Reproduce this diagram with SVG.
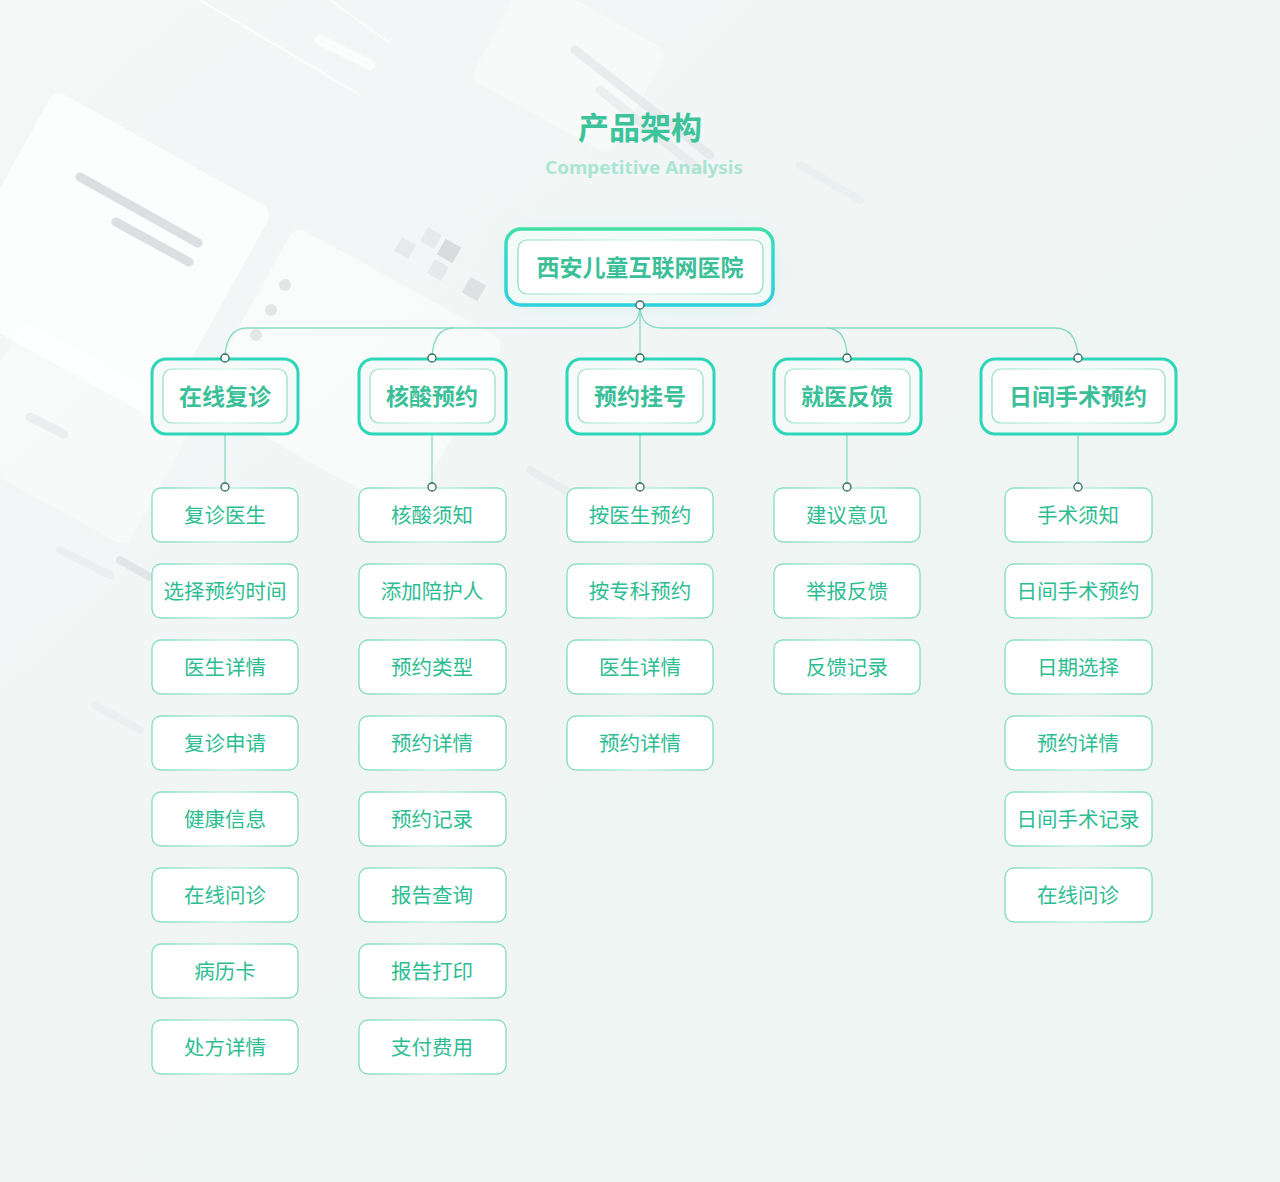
<svg xmlns="http://www.w3.org/2000/svg" width="1280" height="1182" viewBox="0 0 1280 1182">
<defs>
<linearGradient id="bg" x1="0" y1="0" x2="1" y2="1">
<stop offset="0" stop-color="#f5f7f7"/>
<stop offset="0.5" stop-color="#f0f5f4"/>
<stop offset="1" stop-color="#eef5f2"/>
</linearGradient>
<linearGradient id="leafStroke" x1="0" y1="0" x2="1" y2="0">
<stop offset="0" stop-color="#7fdcc0"/>
<stop offset="0.5" stop-color="#c8f1e4"/>
<stop offset="1" stop-color="#7fdcc0"/>
</linearGradient>
<linearGradient id="innerStroke" x1="0" y1="0" x2="1" y2="0">
<stop offset="0" stop-color="#8fdcc4"/>
<stop offset="0.5" stop-color="#d2f3e8"/>
<stop offset="1" stop-color="#8fdcc4"/>
</linearGradient>
<linearGradient id="rootStroke" x1="0" y1="0" x2="0" y2="1">
<stop offset="0" stop-color="#3fe0a6"/>
<stop offset="0.3" stop-color="#35d6d2"/>
<stop offset="1" stop-color="#30d0dc"/>
</linearGradient>
<filter id="glow" x="-30%" y="-50%" width="160%" height="200%">
<feGaussianBlur stdDeviation="14"/>
</filter>
<filter id="soft" x="-20%" y="-20%" width="140%" height="140%">
<feGaussianBlur stdDeviation="3"/>
</filter>
</defs>
<style>
.leaf rect{fill:#ffffff;stroke:url(#leafStroke);stroke-width:1.3}
.leaf text{font-family:"Noto Sans CJK SC","Noto Sans",sans-serif;font-size:20.5px;fill:#2ebd92;text-anchor:middle}
.l1 .outer{fill:#f6fbf9;stroke:#2ed6b8;stroke-width:3}
.l1 .inner{fill:#ffffff;stroke:url(#innerStroke);stroke-width:1.2}
.l1 text{font-family:"Noto Sans CJK SC","Noto Sans",sans-serif;font-size:23px;font-weight:700;fill:#3bbf98;text-anchor:middle}
.conn path,.conn line{fill:none;stroke:#86dcc3;stroke-width:1.3}
.dot{fill:#ffffff;stroke:#2f6b62;stroke-width:1.3}
.deco{fill:#ffffff}
.bar{stroke:#dcdfe2;stroke-linecap:round}
</style>

<rect x="0" y="0" width="1280" height="1182" fill="url(#bg)"/>

<g id="background">
<g transform="rotate(29 120 240)" opacity="0.75">
<rect class="deco" x="-10" y="140" width="250" height="240" rx="12"/>
</g>
<line class="bar" x1="80" y1="177" x2="198" y2="243" stroke-width="9"/>
<line class="bar" x1="116" y1="222" x2="189" y2="262" stroke-width="9"/>
<g transform="rotate(29 340 330)" opacity="0.55">
<rect class="deco" x="250" y="260" width="240" height="200" rx="12"/>
</g>
<circle cx="285" cy="285" r="6" fill="#e3e6e7"/>
<circle cx="271" cy="310" r="6" fill="#e3e6e7"/>
<circle cx="256" cy="335" r="6" fill="#e3e6e7"/>
<g opacity="0.9">
<rect x="397" y="240" width="16" height="16" fill="#e6e9ea" transform="rotate(29 405 248)"/>
<rect x="423" y="230" width="16" height="16" fill="#e6e9ea" transform="rotate(29 431 238)"/>
<rect x="440" y="242" width="18" height="18" fill="#d6dadb" transform="rotate(29 449 251)"/>
<rect x="430" y="262" width="16" height="16" fill="#e4e8e8" transform="rotate(29 438 270)"/>
<rect x="465" y="280" width="18" height="18" fill="#dcdfdf" transform="rotate(29 474 289)"/>
</g>
<line class="bar" x1="30" y1="417" x2="64" y2="434" stroke-width="9" stroke="#cfd3d5"/>
<g transform="rotate(29 100 430)" opacity="0.45">
<rect class="deco" x="-20" y="370" width="200" height="150" rx="12"/>
</g>
<line class="bar" x1="120" y1="560" x2="150" y2="577" stroke-width="8" opacity="0.7"/>
<line x1="200" y1="0" x2="360" y2="95" stroke="#ffffff" stroke-width="2" opacity="0.8"/>
<line x1="320" y1="40" x2="370" y2="65" stroke="#ffffff" stroke-width="10" stroke-linecap="round" opacity="0.8"/>
<line x1="330" y1="0" x2="390" y2="43" stroke="#ffffff" stroke-width="2" opacity="0.7"/>
<g transform="rotate(29 560 60)" opacity="0.45">
<rect class="deco" x="490" y="0" width="160" height="120" rx="12"/>
</g>
<line class="bar" x1="575" y1="50" x2="710" y2="155" stroke-width="9" opacity="0.5"/>
<line class="bar" x1="600" y1="90" x2="700" y2="170" stroke-width="9" opacity="0.4"/>
<line class="bar" x1="800" y1="165" x2="860" y2="200" stroke-width="8" opacity="0.25"/>
<line class="bar" x1="530" y1="470" x2="600" y2="510" stroke-width="8" opacity="0.35"/>
<line class="bar" x1="60" y1="550" x2="110" y2="575" stroke-width="8" opacity="0.3"/>
<line class="bar" x1="95" y1="705" x2="140" y2="730" stroke-width="8" opacity="0.25"/>
</g>

<g id="title">
<text x="640" y="139" font-family="'Noto Sans CJK SC','Noto Sans',sans-serif" font-size="31" font-weight="700" fill="#3cc39a" text-anchor="middle">产品架构</text>
<text x="644" y="174" font-family="'Noto Sans','DejaVu Sans',sans-serif" font-size="18" font-weight="700" fill="#a9e5d2" text-anchor="middle" textLength="198" lengthAdjust="spacingAndGlyphs">Competitive Analysis</text>
</g>

<g id="connectors" class="conn">
<path d="M640 305 Q640 328 618 328 L247 328 Q226 328 225 358"/>
<path d="M640 305 Q640 328 662 328 L1055 328 Q1077 328 1078 358"/>
<path d="M454 328 Q433 328 432 358"/>
<path d="M826 328 Q847 328 847 358"/>
<line x1="640" y1="305" x2="640" y2="358"/>
<line x1="225" y1="434" x2="225" y2="487"/>
<line x1="432" y1="434" x2="432" y2="487"/>
<line x1="640" y1="434" x2="640" y2="487"/>
<line x1="847" y1="434" x2="847" y2="487"/>
<line x1="1078" y1="434" x2="1078" y2="487"/>
</g>

<g id="root">
<rect x="515" y="238" width="250" height="60" rx="14" fill="#5ee0d5" opacity="0.35" filter="url(#glow)"/>
<rect x="506" y="229" width="267" height="76" rx="15" fill="#f3fbf9" stroke="url(#rootStroke)" stroke-width="3.5"/>
<rect x="518" y="240" width="245" height="54" rx="9" fill="#ffffff" stroke="url(#innerStroke)" stroke-width="1.2"/>
<text x="640" y="276" font-family="'Noto Sans CJK SC','Noto Sans',sans-serif" font-size="23" font-weight="700" fill="#3bbf98" text-anchor="middle">西安儿童互联网医院</text>
</g>

<g id="n-zxfz" class="l1">
<rect class="outer" x="152" y="359" width="146" height="75" rx="14"/>
<rect class="inner" x="163" y="369" width="124" height="54" rx="9"/>
<text x="225" y="405">在线复诊</text>
</g>
<g id="n-hsyy" class="l1">
<rect class="outer" x="359" y="359" width="147" height="75" rx="14"/>
<rect class="inner" x="370" y="369" width="125" height="54" rx="9"/>
<text x="432" y="405">核酸预约</text>
</g>
<g id="n-yygh" class="l1">
<rect class="outer" x="567" y="359" width="147" height="75" rx="14"/>
<rect class="inner" x="578" y="369" width="125" height="54" rx="9"/>
<text x="640" y="405">预约挂号</text>
</g>
<g id="n-jyfk" class="l1">
<rect class="outer" x="774" y="359" width="147" height="75" rx="14"/>
<rect class="inner" x="785" y="369" width="125" height="54" rx="9"/>
<text x="847" y="405">就医反馈</text>
</g>
<g id="n-rjss" class="l1">
<rect class="outer" x="981" y="359" width="195" height="75" rx="14"/>
<rect class="inner" x="992" y="369" width="173" height="54" rx="9"/>
<text x="1078" y="405">日间手术预约</text>
</g>

<g id="col1">
<g id="c1-1" class="leaf"><rect x="152" y="488" width="146" height="54" rx="9"/><text x="225" y="523">复诊医生</text></g>
<g id="c1-2" class="leaf"><rect x="152" y="564" width="146" height="54" rx="9"/><text x="225" y="599">选择预约时间</text></g>
<g id="c1-3" class="leaf"><rect x="152" y="640" width="146" height="54" rx="9"/><text x="225" y="675">医生详情</text></g>
<g id="c1-4" class="leaf"><rect x="152" y="716" width="146" height="54" rx="9"/><text x="225" y="751">复诊申请</text></g>
<g id="c1-5" class="leaf"><rect x="152" y="792" width="146" height="54" rx="9"/><text x="225" y="827">健康信息</text></g>
<g id="c1-6" class="leaf"><rect x="152" y="868" width="146" height="54" rx="9"/><text x="225" y="903">在线问诊</text></g>
<g id="c1-7" class="leaf"><rect x="152" y="944" width="146" height="54" rx="9"/><text x="225" y="979">病历卡</text></g>
<g id="c1-8" class="leaf"><rect x="152" y="1020" width="146" height="54" rx="9"/><text x="225" y="1055">处方详情</text></g>
</g>

<g id="col2">
<g id="c2-1" class="leaf"><rect x="359" y="488" width="147" height="54" rx="9"/><text x="432" y="523">核酸须知</text></g>
<g id="c2-2" class="leaf"><rect x="359" y="564" width="147" height="54" rx="9"/><text x="432" y="599">添加陪护人</text></g>
<g id="c2-3" class="leaf"><rect x="359" y="640" width="147" height="54" rx="9"/><text x="432" y="675">预约类型</text></g>
<g id="c2-4" class="leaf"><rect x="359" y="716" width="147" height="54" rx="9"/><text x="432" y="751">预约详情</text></g>
<g id="c2-5" class="leaf"><rect x="359" y="792" width="147" height="54" rx="9"/><text x="432" y="827">预约记录</text></g>
<g id="c2-6" class="leaf"><rect x="359" y="868" width="147" height="54" rx="9"/><text x="432" y="903">报告查询</text></g>
<g id="c2-7" class="leaf"><rect x="359" y="944" width="147" height="54" rx="9"/><text x="432" y="979">报告打印</text></g>
<g id="c2-8" class="leaf"><rect x="359" y="1020" width="147" height="54" rx="9"/><text x="432" y="1055">支付费用</text></g>
</g>

<g id="col3">
<g id="c3-1" class="leaf"><rect x="567" y="488" width="146" height="54" rx="9"/><text x="640" y="523">按医生预约</text></g>
<g id="c3-2" class="leaf"><rect x="567" y="564" width="146" height="54" rx="9"/><text x="640" y="599">按专科预约</text></g>
<g id="c3-3" class="leaf"><rect x="567" y="640" width="146" height="54" rx="9"/><text x="640" y="675">医生详情</text></g>
<g id="c3-4" class="leaf"><rect x="567" y="716" width="146" height="54" rx="9"/><text x="640" y="751">预约详情</text></g>
</g>

<g id="col4">
<g id="c4-1" class="leaf"><rect x="774" y="488" width="146" height="54" rx="9"/><text x="847" y="523">建议意见</text></g>
<g id="c4-2" class="leaf"><rect x="774" y="564" width="146" height="54" rx="9"/><text x="847" y="599">举报反馈</text></g>
<g id="c4-3" class="leaf"><rect x="774" y="640" width="146" height="54" rx="9"/><text x="847" y="675">反馈记录</text></g>
</g>

<g id="col5">
<g id="c5-1" class="leaf"><rect x="1005" y="488" width="147" height="54" rx="9"/><text x="1078" y="523">手术须知</text></g>
<g id="c5-2" class="leaf"><rect x="1005" y="564" width="147" height="54" rx="9"/><text x="1078" y="599">日间手术预约</text></g>
<g id="c5-3" class="leaf"><rect x="1005" y="640" width="147" height="54" rx="9"/><text x="1078" y="675">日期选择</text></g>
<g id="c5-4" class="leaf"><rect x="1005" y="716" width="147" height="54" rx="9"/><text x="1078" y="751">预约详情</text></g>
<g id="c5-5" class="leaf"><rect x="1005" y="792" width="147" height="54" rx="9"/><text x="1078" y="827">日间手术记录</text></g>
<g id="c5-6" class="leaf"><rect x="1005" y="868" width="147" height="54" rx="9"/><text x="1078" y="903">在线问诊</text></g>
</g>

<g id="dots">
<circle class="dot" cx="640" cy="305" r="4"/>
<circle class="dot" cx="225" cy="358" r="4"/>
<circle class="dot" cx="432" cy="358" r="4"/>
<circle class="dot" cx="640" cy="358" r="4"/>
<circle class="dot" cx="847" cy="358" r="4"/>
<circle class="dot" cx="1078" cy="358" r="4"/>
<circle class="dot" cx="225" cy="487" r="4"/>
<circle class="dot" cx="432" cy="487" r="4"/>
<circle class="dot" cx="640" cy="487" r="4"/>
<circle class="dot" cx="847" cy="487" r="4"/>
<circle class="dot" cx="1078" cy="487" r="4"/>
</g>
</svg>
